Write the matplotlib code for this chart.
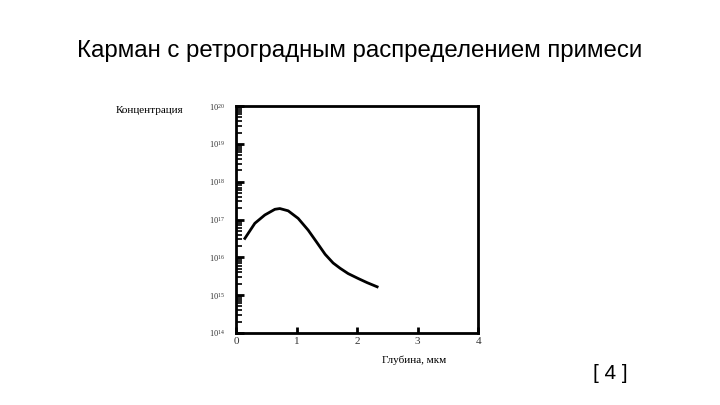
import matplotlib
matplotlib.use('Agg')
import matplotlib.pyplot as plt
import numpy as np
from matplotlib.ticker import LogLocator, LogFormatterMathtext, FixedLocator

# profile (depth, um ; log10 of concentration)
depth = [0.144, 0.309, 0.474, 0.640, 0.722, 0.860, 1.025, 1.190, 1.327,
         1.471, 1.603, 1.719, 1.851, 2.017, 2.165, 2.331]
log_conc = [16.50, 16.90, 17.12, 17.27, 17.29, 17.23, 17.03, 16.72, 16.41,
            16.08, 15.85, 15.71, 15.57, 15.44, 15.33, 15.22]
x_ticks = [0, 1, 2, 3, 4]

title = "Карман с ретроградным распределением примеси"
ylab = "Концентрация"
xlab = "Глубина, мкм"
ref = "[ 4 ]"

conc = [10 ** v for v in log_conc]

fig = plt.figure(figsize=(7.2, 4.05), dpi=100)
fig.text(0.5, 0.875, title, ha='center', va='center', fontsize=17.3,
         family='Liberation Sans')

ax = fig.add_axes([0.328, 0.178, 0.336, 0.560])
ax.plot(depth, conc, color='black', lw=2, solid_joinstyle='round')
ax.set_yscale('log')
ax.set_ylim(1e14, 1e20)
ax.set_xlim(0, 4)

ax.yaxis.set_major_locator(LogLocator(base=10, numticks=10))
ax.yaxis.set_major_formatter(LogFormatterMathtext())
ax.yaxis.set_minor_locator(LogLocator(base=10, subs=np.arange(2, 10), numticks=10))
ax.xaxis.set_major_locator(FixedLocator(x_ticks))

ax.tick_params(axis='y', which='major', direction='in', length=6, width=2,
               labelsize=6, pad=8, right=False)
ax.tick_params(axis='y', which='minor', direction='in', length=4, width=1.2)
ax.tick_params(axis='x', which='major', direction='in', length=4, width=2,
               labelsize=8, pad=3, top=False)
for lab in ax.get_yticklabels() + ax.get_xticklabels():
    lab.set_family('Liberation Serif')
    lab.set_color('#333333')

for s in ax.spines.values():
    s.set_linewidth(2)

fig.text(0.161, 0.728, ylab, ha='left', va='center', fontsize=8,
         family='Liberation Serif')
fig.text(0.575, 0.111, xlab, ha='center', va='center', fontsize=8,
         family='Liberation Serif')
fig.text(0.848, 0.078, ref, ha='center', va='center', fontsize=15,
         family='Liberation Sans')

fig.savefig('out.png', dpi=100)
